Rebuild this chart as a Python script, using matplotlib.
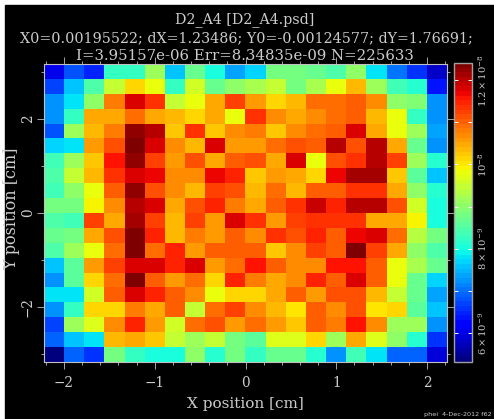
import numpy as np
import matplotlib
matplotlib.use("Agg")
import matplotlib.pyplot as plt
from matplotlib.patches import Rectangle
from matplotlib.ticker import FixedLocator, NullFormatter

# intensity per pixel, in units of 1e-9, top row first
row_01 = [6.08, 6.86, 6.52, 8.23, 8.23, 9.11, 7.53, 8.73, 7.98, 7.41, 7.75, 8.85, 8.85, 8.73, 8.48, 8.98, 7.85, 7.07, 6.63, 5.8]
row_02 = [6.75, 7.58, 8.48, 9.42, 10.13, 9.85, 8.23, 9.61, 8.73, 8.98, 9.3, 9.42, 8.85, 9.3, 9.85, 10.32, 9.17, 8.36, 8.11, 6.41]
row_03 = [7.2, 7.85, 9.0, 10.8, 11.84, 11.4, 9.42, 9.8, 10.5, 11.22, 10.61, 10.13, 10.32, 10.92, 10.92, 11.03, 10.68, 9.0, 8.9, 7.25]
row_04 = [7.2, 8.23, 10.44, 10.44, 10.92, 10.44, 10.32, 10.19, 10.5, 9.85, 11.34, 10.74, 10.44, 10.68, 10.92, 11.03, 10.32, 9.85, 8.23, 7.2]
row_05 = [6.86, 9.11, 10.32, 10.8, 12.23, 12.04, 10.26, 11.34, 10.26, 10.68, 10.8, 10.26, 10.74, 10.86, 11.03, 11.76, 10.44, 9.85, 9.17, 7.41]
row_06 = [7.75, 7.85, 10.61, 11.16, 12.4, 11.76, 10.68, 10.32, 11.76, 10.61, 10.61, 10.86, 11.09, 10.97, 12.04, 11.16, 11.99, 10.44, 8.73, 7.2]
row_07 = [8.36, 9.17, 10.26, 11.58, 12.23, 11.22, 10.61, 11.16, 10.5, 10.97, 11.16, 10.44, 11.76, 9.85, 11.16, 11.4, 11.99, 11.28, 9.17, 8.11]
row_08 = [8.48, 9.42, 10.32, 11.34, 11.84, 11.64, 10.68, 10.68, 11.64, 11.52, 10.26, 10.61, 10.5, 10.19, 11.64, 12.16, 12.08, 10.26, 8.6, 7.53]
row_09 = [8.36, 8.98, 9.85, 11.03, 12.23, 11.09, 10.68, 10.38, 11.22, 11.09, 10.38, 10.92, 10.38, 11.03, 11.03, 11.34, 11.34, 10.5, 8.98, 8.11]
row_10 = [8.85, 8.85, 9.96, 10.68, 12.04, 11.76, 10.5, 11.16, 11.52, 10.8, 10.5, 10.97, 11.4, 11.91, 11.52, 11.99, 12.04, 11.09, 9.61, 7.98]
row_11 = [8.48, 8.36, 11.22, 10.5, 12.16, 11.22, 10.32, 11.28, 10.55, 11.76, 11.4, 10.61, 11.22, 11.34, 11.34, 11.4, 10.5, 10.5, 9.96, 7.98]
row_12 = [8.73, 8.85, 10.5, 11.16, 12.4, 11.45, 10.32, 10.8, 10.55, 11.03, 10.74, 11.34, 11.09, 11.45, 11.03, 11.64, 11.76, 10.86, 9.36, 8.85]
row_13 = [8.48, 9.17, 9.85, 10.86, 12.32, 10.86, 11.45, 10.61, 10.97, 10.97, 10.97, 10.26, 10.74, 11.28, 11.03, 12.4, 11.28, 10.44, 8.98, 8.48]
row_14 = [7.58, 8.6, 10.61, 11.22, 11.84, 11.84, 11.52, 11.84, 10.61, 10.86, 11.58, 10.97, 10.74, 10.74, 11.58, 11.58, 10.97, 9.85, 9.3, 8.73]
row_15 = [7.3, 8.6, 10.19, 10.86, 12.32, 10.97, 10.55, 10.86, 10.13, 11.45, 10.8, 10.5, 10.74, 11.45, 10.97, 11.84, 10.97, 9.85, 8.73, 7.7]
row_16 = [7.85, 7.85, 9.55, 11.03, 11.76, 11.45, 10.97, 10.74, 9.85, 10.13, 10.13, 10.5, 10.97, 10.55, 11.09, 11.09, 10.38, 9.42, 8.73, 7.41]
row_17 = [7.2, 8.23, 10.13, 10.13, 10.8, 10.5, 10.97, 9.42, 10.92, 11.28, 10.74, 10.38, 10.07, 11.03, 10.74, 11.16, 10.07, 10.13, 8.6, 7.58]
row_18 = [6.75, 9.17, 9.67, 10.74, 11.52, 10.61, 9.61, 10.86, 11.16, 10.61, 10.86, 10.61, 10.26, 10.97, 10.8, 11.58, 10.74, 9.17, 9.11, 7.3]
row_19 = [6.97, 7.53, 7.85, 10.32, 10.44, 10.26, 9.42, 9.17, 9.42, 8.85, 8.6, 9.67, 9.67, 10.13, 9.17, 10.5, 9.67, 8.98, 8.11, 6.63]
row_20 = [5.39, 6.97, 6.63, 8.85, 8.23, 7.98, 7.98, 9.0, 8.11, 8.85, 8.23, 8.73, 8.73, 8.11, 7.2, 8.36, 7.85, 6.97, 6.97, 5.9]

rows = [row_01, row_02, row_03, row_04, row_05, row_06, row_07, row_08, row_09, row_10,
        row_11, row_12, row_13, row_14, row_15, row_16, row_17, row_18, row_19, row_20]

x_range = [-2.22, 2.22]
y_range = [-3.16, 3.16]
c_range = [5.31, 12.41]
x_ticks = [-2, -1, 0, 1, 2]
y_ticks = [-2, 0, 2]
y_minor = [-3, -1, 1, 3]
c_ticks = [6, 8, 10, 12]
c_minor = [7, 9, 11]
c_labels = ["$6\\times10^{-9}$", "$8\\times10^{-9}$", "$10^{-8}$", "$1.2\\times10^{-8}$"]

title_lines = ["D2_A4 [D2_A4.psd]",
               "X0=0.00195522; dX=1.23486; Y0=-0.00124577; dY=1.76691;",
               "I=3.95157e-06 Err=8.34835e-09 N=225633"]

W, H = 494, 419
LINE = "#c0c0c0"
TEXT = "#cccccc"

plt.rcParams["font.family"] = ["DejaVu Serif"]
plt.rcParams["mathtext.fontset"] = "dejavuserif"

fig = plt.figure(figsize=(W / 100, H / 100), dpi=100, facecolor="white")
fig.add_artist(Rectangle((5 / W, 0), 1, 1 - 5 / H, transform=fig.transFigure, color="black", zorder=-5))


def box(left, top, right, bottom):
    return [left / W, 1 - bottom / H, (right - left) / W, (bottom - top) / H]


ax = fig.add_axes(box(44, 64, 447, 362), facecolor="black")
cmap = plt.get_cmap("jet", 64)
mesh = ax.imshow(np.array(rows), cmap=cmap, vmin=c_range[0], vmax=c_range[1], aspect="auto",
                 interpolation="nearest", extent=[x_range[0], x_range[1], y_range[0], y_range[1]])

ax.set_xlim(x_range)
ax.set_ylim(y_range)
ax.set_xticks(x_ticks)
ax.set_xticklabels(["\u22122", "\u22121", "0", "1", "2"])
ax.xaxis.set_minor_locator(FixedLocator(np.arange(-22, 23, 2) / 10))
ax.set_yticks(y_ticks)
ax.set_yticklabels(["\u22122", "0", "2"], rotation=90, va="center")
ax.yaxis.set_minor_locator(FixedLocator(y_minor))
ax.tick_params(which="major", direction="out", length=5, width=0.6, color=LINE, labelcolor=TEXT,
               labelsize=9.8, top=True, right=True)
ax.tick_params(axis="x", which="major", pad=5)
ax.tick_params(axis="y", which="major", pad=1.5)
ax.tick_params(which="minor", direction="out", length=2.5, width=0.6, color=LINE, top=True, right=True)
for spine in ax.spines.values():
    spine.set_color(LINE)
    spine.set_linewidth(0.8)

cax = fig.add_axes(box(454, 63, 472, 362))
cb = fig.colorbar(mesh, cax=cax)
cb.set_ticks(c_ticks)
cb.set_ticklabels(c_labels, rotation=90, va="center")
cb.ax.yaxis.set_minor_locator(FixedLocator(c_minor))
cb.ax.yaxis.set_minor_formatter(NullFormatter())
cb.ax.tick_params(which="both", direction="in", length=3, width=0.7, color="white",
                  labelcolor=TEXT, labelsize=7.2, left=True, right=True, pad=3)
cb.outline.set_edgecolor("#a0a0a0")
cb.outline.set_linewidth(1)

title_y = [20, 38, 56]
title_x = [245, 246.5, 245]
title_size = [10.2, 10.3, 10.7]
for line, x, y, size in zip(title_lines, title_x, title_y, title_size):
    fig.text(x / W, 1 - y / H, line, color=TEXT, fontsize=size, ha="center", va="center")

fig.text(245 / W, 1 - 404 / H, "X position [cm]", color=TEXT, fontsize=11, ha="center", va="center")
fig.text(12 / W, 1 - 209 / H, "Y position [cm]", color=TEXT, fontsize=11.5, rotation=90, ha="center", va="center")
fig.text(424 / W, 1 - 414 / H, "phei  4-Dec-2012 f62", color=TEXT, fontsize=4.6, family="DejaVu Sans",
         ha="left", va="center")

fig.savefig("out.png", dpi=100, facecolor=fig.get_facecolor())
